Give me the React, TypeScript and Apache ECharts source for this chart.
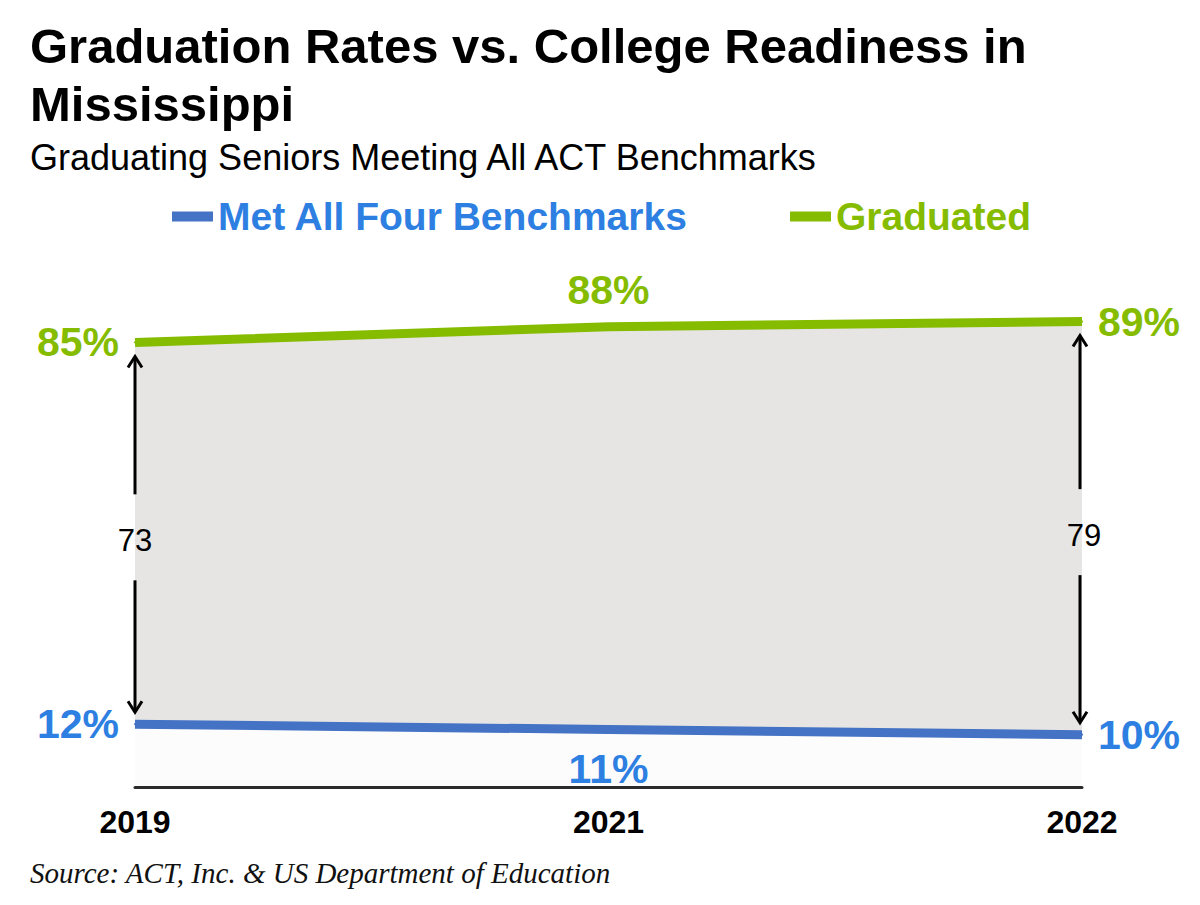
import React, { useEffect, useRef } from "react";
import * as echarts from "echarts";

const categories = ["2019", "2021", "2022"];
const graduated = [85, 88, 89];
const metAll = [12, 11, 10];
const arrowIndexes = [0, 2];

const titleText = "Graduation Rates vs. College Readiness in\nMississippi";
const subtitleText = "Graduating Seniors Meeting All ACT Benchmarks";
const sourceText = "Source: ACT, Inc. & US Department of Education";
const seriesNames = ["Met All Four Benchmarks", "Graduated"];

const GREEN = "#86bc00";
const BLUE_LINE = "#4472c4";
const BLUE_TEXT = "#2e7fe2";
const SANS = '"Liberation Sans", Arial, sans-serif';

export default function App() {
  const ref = useRef<HTMLDivElement>(null);

  useEffect(() => {
    if (!ref.current) return;
    const chart = echarts.init(ref.current, null, { renderer: "svg" });

    const labelFont = { fontFamily: SANS, fontWeight: "bold", fontSize: 41 };
    const gradPos = ["left", "top", "right"];
    const gradDist = [15, 15, 15];
    const metPos = ["left", "bottom", "right"];
    const metDist = [15, 18, 15];

    const arrowData = arrowIndexes.map((i) => [i, metAll[i], graduated[i]]);

    const option: any = {
      animation: false,
      backgroundColor: "#ffffff",
      title: [
        {
          text: titleText,
          left: 30,
          top: 17,
          padding: 0,
          textStyle: {
            fontFamily: SANS,
            fontWeight: "bold",
            fontSize: 49,
            lineHeight: 58,
            color: "#000",
          },
        },
        {
          text: subtitleText,
          left: 30,
          top: 139,
          padding: 0,
          textStyle: {
            fontFamily: SANS,
            fontWeight: "normal",
            fontSize: 36,
            lineHeight: 36,
            color: "#000",
          },
        },
      ],
      legend: [
        {
          data: [{ name: seriesNames[0], textStyle: { color: BLUE_TEXT } }],
          left: 172,
          top: 197,
          padding: 0,
          icon: "rect",
          itemWidth: 41,
          itemHeight: 10,
          textStyle: { fontFamily: SANS, fontWeight: "bold", fontSize: 39 },
          selectedMode: false,
        },
        {
          data: [{ name: seriesNames[1], textStyle: { color: GREEN } }],
          left: 790,
          top: 197,
          padding: 0,
          icon: "rect",
          itemWidth: 41,
          itemHeight: 10,
          textStyle: { fontFamily: SANS, fontWeight: "bold", fontSize: 39 },
          selectedMode: false,
        },
      ],
      grid: { left: 135, right: 118, top: 264, bottom: 118, containLabel: false },
      xAxis: {
        type: "category",
        data: categories,
        boundaryGap: false,
        z: 10,
        axisLine: { show: true, lineStyle: { color: "#2b2b2b", width: 3 } },
        axisTick: { show: false },
        axisLabel: {
          margin: 19,
          color: "#000",
          fontFamily: SANS,
          fontWeight: "bold",
          fontSize: 32,
        },
        splitLine: { show: false },
      },
      yAxis: {
        type: "value",
        min: 0,
        max: 100,
        show: false,
        splitLine: { show: false },
      },
      graphic: [
        {
          type: "text",
          left: 30,
          top: 858,
          style: {
            text: sourceText,
            font: 'italic 29px "Liberation Serif", "Times New Roman", serif',
            fill: "#111",
          },
        },
      ],
      series: [
        {
          name: seriesNames[1],
          type: "line",
          data: graduated.map((v, i) => ({
            value: v,
            label: { position: gradPos[i], distance: gradDist[i] },
          })),
          symbol: "circle",
          symbolSize: 2,
          itemStyle: { color: GREEN },
          lineStyle: { color: GREEN, width: 9 },
          areaStyle: { color: "#e6e5e4", opacity: 1 },
          label: {
            show: true,
            formatter: "{c}%",
            color: GREEN,
            ...labelFont,
          },
          z: 2,
        },
        {
          name: seriesNames[0],
          type: "line",
          data: metAll.map((v, i) => ({
            value: v,
            label: { position: metPos[i], distance: metDist[i] },
          })),
          symbol: "circle",
          symbolSize: 2,
          itemStyle: { color: BLUE_LINE },
          lineStyle: { color: BLUE_LINE, width: 9 },
          areaStyle: { color: "#fcfcfc", opacity: 1 },
          label: {
            show: true,
            formatter: "{c}%",
            color: BLUE_TEXT,
            ...labelFont,
          },
          z: 3,
        },
        {
          name: "gap",
          type: "custom",
          coordinateSystem: "cartesian2d",
          data: arrowData,
          encode: { x: 0, y: [1, 2] },
          silent: true,
          z: 5,
          renderItem: (params: any, api: any) => {
            const xi = api.value(0);
            const low = api.value(1);
            const high = api.value(2);
            const pTop = api.coord([xi, high]);
            const pBot = api.coord([xi, low]);
            const cx = pTop[0] - (xi > 0 ? 2 : 0);
            const yTop = pTop[1] + 14;
            const yBot = pBot[1] - 12;
            const mid = (pTop[1] + pBot[1]) / 2 + 4;
            const gap = 43;
            const stroke = { stroke: "#000", lineWidth: 3, fill: "none" };
            return {
              type: "group",
              children: [
                {
                  type: "line",
                  shape: { x1: cx, y1: yTop + 1, x2: cx, y2: mid - gap },
                  style: stroke,
                },
                {
                  type: "polyline",
                  shape: { points: [[cx - 7, yTop + 11], [cx, yTop], [cx + 7, yTop + 11]] },
                  style: stroke,
                },
                {
                  type: "line",
                  shape: { x1: cx, y1: mid + gap, x2: cx, y2: yBot - 1 },
                  style: stroke,
                },
                {
                  type: "polyline",
                  shape: { points: [[cx - 7, yBot - 11], [cx, yBot], [cx + 7, yBot - 11]] },
                  style: stroke,
                },
                {
                  type: "text",
                  x: cx + (xi > 0 ? 4 : 0),
                  y: mid + 3,
                  style: {
                    text: String(Math.round(high - low)),
                    font: '31px "Liberation Sans", Arial, sans-serif',
                    fill: "#000",
                    align: "center",
                    verticalAlign: "middle",
                  },
                },
              ],
            };
          },
        },
      ],
    };

    chart.setOption(option);
    return () => chart.dispose();
  }, []);

  return (
    <div
      ref={ref}
      style={{ position: "fixed", left: 0, top: 0, width: 1200, height: 905, background: "#fff" }}
    />
  );
}
